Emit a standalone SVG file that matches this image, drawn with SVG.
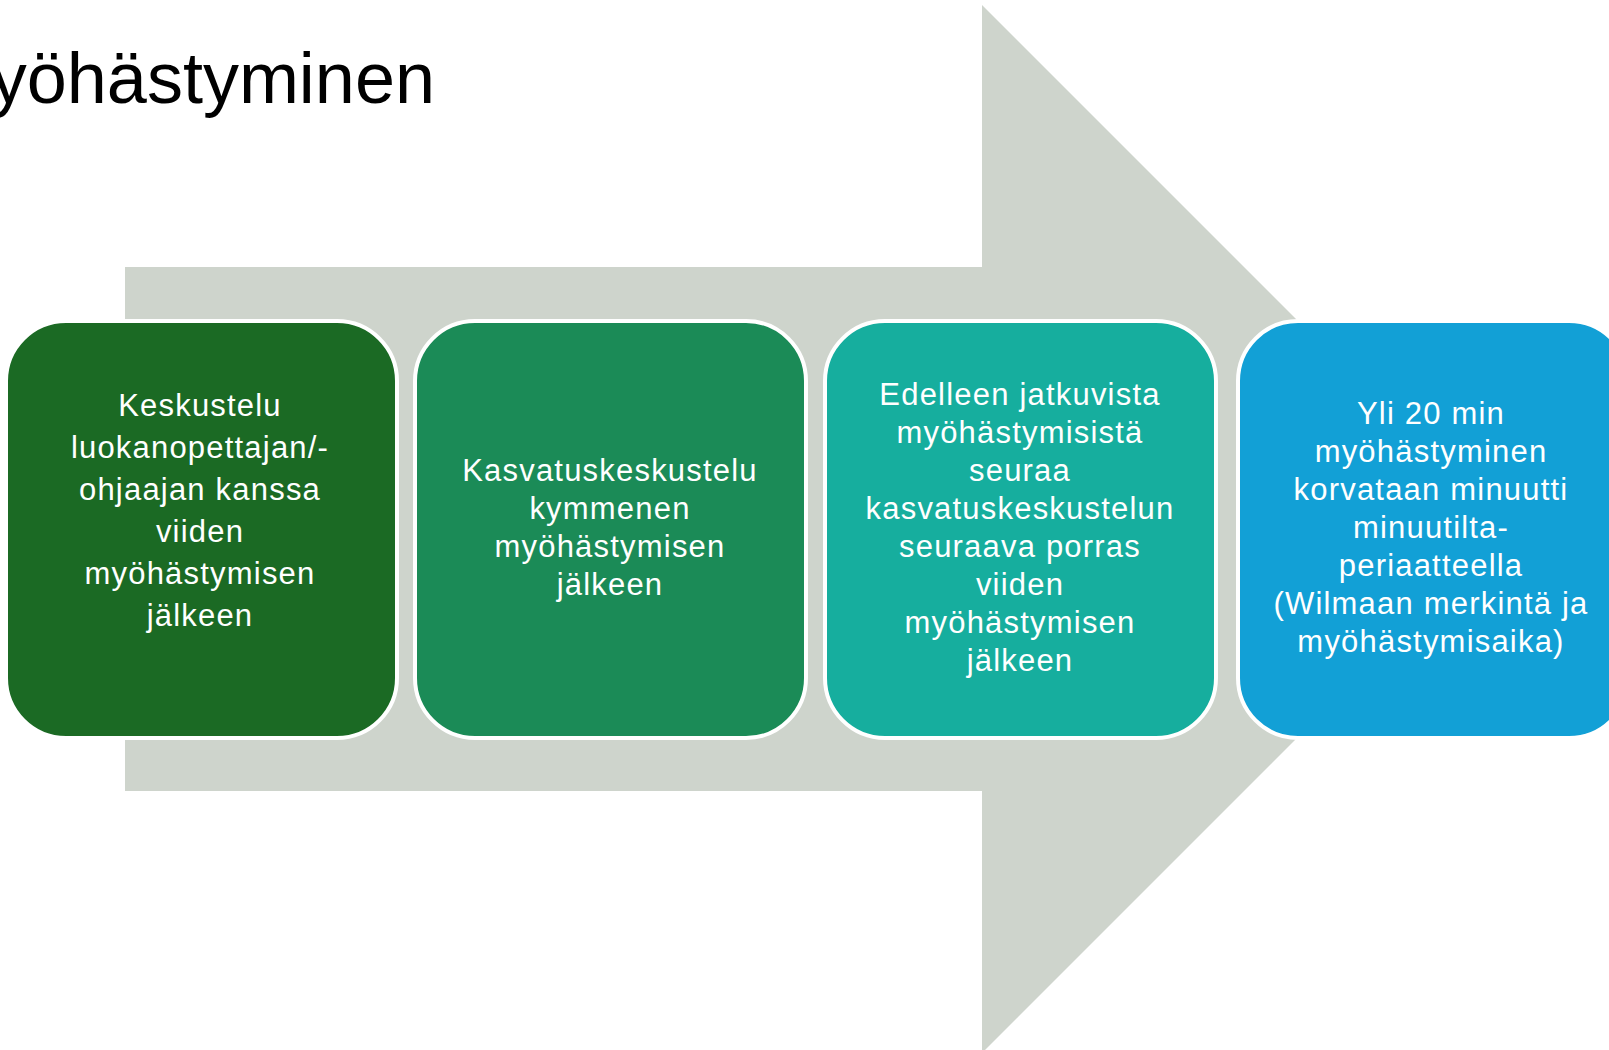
<svg xmlns="http://www.w3.org/2000/svg" width="1609" height="1050" viewBox="0 0 1609 1050">
<style>
.box{stroke:#ffffff;stroke-width:4}
.t{font-family:"Liberation Sans",Arial,sans-serif;font-size:31px;letter-spacing:1.2px;fill:#ffffff;text-anchor:middle}
.title{font-family:"Liberation Sans",Arial,sans-serif;font-size:72px;fill:#000000;text-anchor:end}
</style>
<rect width="1609" height="1050" fill="#ffffff"/>
<g id="title"><text class="title" x="435" y="103">Myöhästyminen</text></g>
<g id="connectors">
<polygon points="125,267 982,267 982,5 1506,529 982,1053 982,791 125,791" fill="#CED4CC"/>
</g>
<g id="step1">
<rect class="box" x="6" y="321" width="391" height="417" rx="60" ry="60" fill="#1B6A24"/>
<text class="t" x="200"><tspan x="200" y="416">Keskustelu</tspan><tspan x="200" y="458">luokanopettajan/-</tspan><tspan x="200" y="500">ohjaajan kanssa</tspan><tspan x="200" y="542">viiden</tspan><tspan x="200" y="584">myöhästymisen</tspan><tspan x="200" y="626">jälkeen</tspan></text>
</g>
<g id="step2">
<rect class="box" x="415" y="321" width="391" height="417" rx="60" ry="60" fill="#1B8B57"/>
<text class="t"><tspan x="610" y="481">Kasvatuskeskustelu</tspan><tspan x="610" y="519">kymmenen</tspan><tspan x="610" y="557">myöhästymisen</tspan><tspan x="610" y="595">jälkeen</tspan></text>
</g>
<g id="step3">
<rect class="box" x="825" y="321" width="391" height="417" rx="60" ry="60" fill="#16AE9E"/>
<text class="t"><tspan x="1020" y="405">Edelleen jatkuvista</tspan><tspan x="1020" y="443">myöhästymisistä</tspan><tspan x="1020" y="481">seuraa</tspan><tspan x="1020" y="519">kasvatuskeskustelun</tspan><tspan x="1020" y="557">seuraava porras</tspan><tspan x="1020" y="595">viiden</tspan><tspan x="1020" y="633">myöhästymisen</tspan><tspan x="1020" y="671">jälkeen</tspan></text>
</g>
<g id="step4">
<rect class="box" x="1238" y="321" width="391" height="417" rx="60" ry="60" fill="#12A0D6"/>
<text class="t"><tspan x="1431" y="424">Yli 20 min</tspan><tspan x="1431" y="462">myöhästyminen</tspan><tspan x="1431" y="500">korvataan minuutti</tspan><tspan x="1431" y="538">minuutilta-</tspan><tspan x="1431" y="576">periaatteella</tspan><tspan x="1431" y="614">(Wilmaan merkintä ja</tspan><tspan x="1431" y="652">myöhästymisaika)</tspan></text>
</g>
</svg>
